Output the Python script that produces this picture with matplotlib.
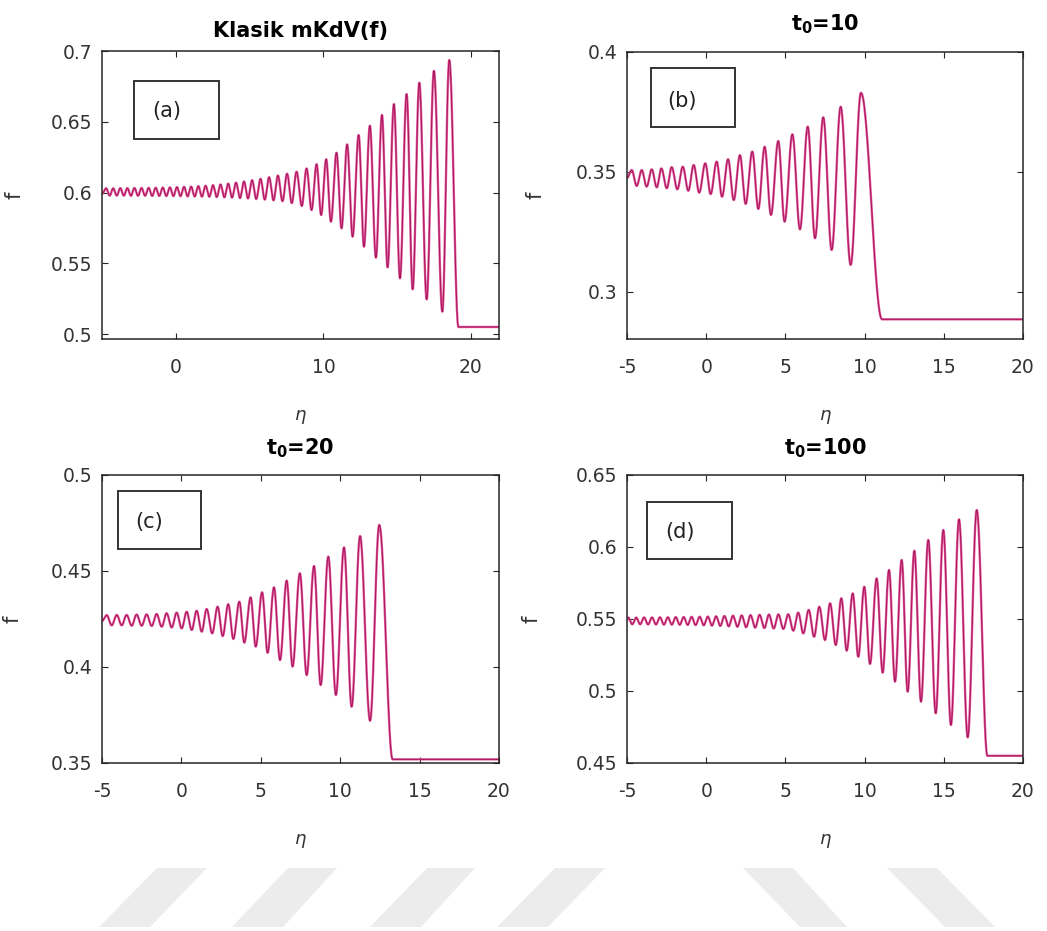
import numpy as np
import matplotlib
matplotlib.use("Agg")
import matplotlib.pyplot as plt
from matplotlib.patches import Rectangle, Polygon

# ---------------- data (extrema) ----------------
titles = ["Klasik mKdV(f)", r"$\mathbf{t_0}$=10", r"$\mathbf{t_0}$=20", r"$\mathbf{t_0}$=100"]
panel_tags = ["(a)", "(b)", "(c)", "(d)"]

# (a) classic mKdV
a_peak_eta = [-4.72, -4.24, -3.76, -3.28, -2.80, -2.32, -1.84, -1.36, -0.88, -0.40,
              0.08, 0.56, 1.04, 1.53, 2.02, 2.52, 3.03, 3.55, 4.08, 4.62,
              5.17, 5.74, 6.32, 6.92, 7.54, 8.18, 8.86, 9.54, 10.19, 10.89,
              11.61, 12.39, 13.15, 13.97, 14.78, 15.64, 16.50, 17.49, 18.53]
a_peak_f = [0.6030, 0.6030, 0.6031, 0.6031, 0.6032, 0.6032, 0.6033, 0.6034, 0.6035, 0.6036,
            0.6038, 0.6040, 0.6042, 0.6045, 0.6048, 0.6052, 0.6057, 0.6063, 0.6070, 0.6078,
            0.6087, 0.6097, 0.6108, 0.6120, 0.6133, 0.6147, 0.6170, 0.6200, 0.6235, 0.6281,
            0.6340, 0.6406, 0.6472, 0.6548, 0.6625, 0.6696, 0.6776, 0.6860, 0.6936]
a_trough_eta = [-4.48, -4.00, -3.52, -3.04, -2.56, -2.08, -1.60, -1.12, -0.64, -0.16,
                0.32, 0.80, 1.28, 1.77, 2.27, 2.77, 3.29, 3.81, 4.35, 4.89,
                5.45, 6.03, 6.62, 7.23, 7.86, 8.54, 9.20, 9.85, 10.51, 11.23,
                11.98, 12.75, 13.56, 14.35, 15.19, 16.05, 17.00, 18.06]
a_trough_f = [0.5978, 0.5978, 0.5978, 0.5977, 0.5977, 0.5977, 0.5976, 0.5976, 0.5975, 0.5975,
              0.5974, 0.5973, 0.5972, 0.5971, 0.5970, 0.5968, 0.5966, 0.5964, 0.5961, 0.5958,
              0.5954, 0.5950, 0.5945, 0.5939, 0.5925, 0.5905, 0.5876, 0.5841, 0.5794, 0.5747,
              0.5688, 0.5617, 0.5540, 0.5471, 0.5394, 0.5316, 0.5245, 0.5158]
a_start_f = 0.5990
a_front_eta, a_plateau_f = 19.15, 0.5050

# (b) t0 = 10
b_peak_eta = [-4.70, -4.07, -3.44, -2.83, -2.18, -1.48, -0.79, -0.06, 0.66, 1.38,
              2.13, 2.91, 3.69, 4.55, 5.44, 6.41, 7.39, 8.49, 9.77]
b_peak_f = [0.3508, 0.3508, 0.3511, 0.3515, 0.3520, 0.3522, 0.3529, 0.3536, 0.3543, 0.3553,
            0.3570, 0.3585, 0.3605, 0.3629, 0.3657, 0.3689, 0.3728, 0.3772, 0.3830]
b_trough_eta = [-4.39, -3.76, -3.12, -2.49, -1.82, -1.13, -0.44, 0.28, 1.00, 1.74,
                2.49, 3.29, 4.09, 4.95, 5.92, 6.87, 7.92, 9.12]
b_trough_f = [0.3442, 0.3439, 0.3436, 0.3432, 0.3428, 0.3422, 0.3414, 0.3408, 0.3397, 0.3383,
              0.3367, 0.3346, 0.3321, 0.3293, 0.3261, 0.3224, 0.3175, 0.3113]
b_start_f = 0.3475
b_front_eta, b_plateau_f = 11.10, 0.2886

# (c) t0 = 20
c_peak_eta = [-4.70, -4.07, -3.45, -2.82, -2.19, -1.56, -0.93, -0.30, 0.33, 0.96,
              1.59, 2.28, 2.95, 3.65, 4.36, 5.08, 5.83, 6.63, 7.46, 8.35,
              9.25, 10.24, 11.25, 12.46]
c_peak_f = [0.4270, 0.4271, 0.4271, 0.4273, 0.4274, 0.4276, 0.4280, 0.4283, 0.4288, 0.4293,
            0.4302, 0.4314, 0.4327, 0.4340, 0.4363, 0.4389, 0.4415, 0.4450, 0.4488, 0.4526,
            0.4575, 0.4623, 0.4682, 0.4740]
c_trough_eta = [-4.39, -3.76, -3.13, -2.50, -1.87, -1.24, -0.61, 0.02, 0.65, 1.28,
                1.94, 2.60, 3.27, 3.96, 4.68, 5.43, 6.21, 7.00, 7.89, 8.77,
                9.73, 10.72, 11.88]
c_trough_f = [0.4217, 0.4217, 0.4215, 0.4215, 0.4214, 0.4210, 0.4206, 0.4201, 0.4193, 0.4184,
              0.4175, 0.4161, 0.4146, 0.4127, 0.4106, 0.4074, 0.4036, 0.4002, 0.3958, 0.3906,
              0.3854, 0.3793, 0.3720]
c_start_f = 0.4240
c_front_eta, c_plateau_f = 13.30, 0.3519

# (d) t0 = 100
d_peak_eta = [-4.92, -4.42, -3.92, -3.42, -2.92, -2.42, -1.92, -1.42, -0.92, -0.41,
              0.10, 0.62, 1.15, 1.69, 2.24, 2.80, 3.37, 3.96, 4.56, 5.18,
              5.81, 6.47, 7.14, 7.82, 8.53, 9.25, 9.98, 10.76, 11.54, 12.34,
              13.14, 14.02, 14.97, 15.96, 17.08]
d_peak_f = [0.5510, 0.5510, 0.5511, 0.5511, 0.5512, 0.5512, 0.5513, 0.5514, 0.5515, 0.5516,
            0.5517, 0.5519, 0.5521, 0.5523, 0.5525, 0.5527, 0.5529, 0.5531, 0.5532, 0.5533,
            0.5544, 0.5563, 0.5585, 0.5609, 0.5644, 0.5678, 0.5724, 0.5782, 0.5840, 0.5910,
            0.5974, 0.6049, 0.6118, 0.6192, 0.6257]
d_trough_eta = [-4.67, -4.17, -3.67, -3.17, -2.67, -2.17, -1.67, -1.17, -0.67, -0.16,
                0.36, 0.89, 1.42, 1.97, 2.52, 3.09, 3.67, 4.26, 4.87, 5.50,
                6.13, 6.81, 7.50, 8.18, 8.87, 9.60, 10.34, 11.14, 11.92, 12.72,
                13.56, 14.49, 15.45, 16.51]
d_trough_f = [0.5463, 0.5463, 0.5462, 0.5462, 0.5461, 0.5461, 0.5460, 0.5459, 0.5458, 0.5456,
              0.5454, 0.5452, 0.5449, 0.5446, 0.5443, 0.5440, 0.5437, 0.5434, 0.5431, 0.5419,
              0.5400, 0.5377, 0.5354, 0.5319, 0.5280, 0.5238, 0.5188, 0.5127, 0.5065, 0.4995,
              0.4926, 0.4845, 0.4764, 0.4678]
d_start_f = 0.5495
d_front_eta, d_plateau_f = 17.75, 0.4550

xlims = [(-5.0, 21.9), (-5.0, 20.0), (-5.0, 20.0), (-5.0, 20.0)]
ylims = [(0.4965, 0.70), (0.2804, 0.40), (0.35, 0.50), (0.45, 0.65)]
xticks = [[0, 10, 20], [-5, 0, 5, 10, 15, 20], [-5, 0, 5, 10, 15, 20], [-5, 0, 5, 10, 15, 20]]
yticks = [[0.5, 0.55, 0.6, 0.65, 0.7], [0.3, 0.35, 0.4], [0.35, 0.4, 0.45, 0.5], [0.45, 0.5, 0.55, 0.6, 0.65]]

panels = [
    (a_peak_eta, a_peak_f, a_trough_eta, a_trough_f, a_start_f, a_front_eta, a_plateau_f),
    (b_peak_eta, b_peak_f, b_trough_eta, b_trough_f, b_start_f, b_front_eta, b_plateau_f),
    (c_peak_eta, c_peak_f, c_trough_eta, c_trough_f, c_start_f, c_front_eta, c_plateau_f),
    (d_peak_eta, d_peak_f, d_trough_eta, d_trough_f, d_start_f, d_front_eta, d_plateau_f),
]

# ---------------- drawing ----------------
W, H = 1047, 931
plt.rcParams["mathtext.fontset"] = "dejavusans"
plt.rcParams["axes.unicode_minus"] = False
fig = plt.figure(figsize=(W / 100, H / 100), dpi=100)
fig.patch.set_facecolor("white")

def px_rect(x0, y0, x1, y1):
    return [x0 / W, 1 - y1 / H, (x1 - x0) / W, (y1 - y0) / H]

axes_px = [(102, 51, 499, 339), (627, 52, 1023, 339), (102, 475, 499, 763), (627, 475, 1023, 763)]
ylabel_x = [-0.194, -0.207, -0.20, -0.215]
tag_boxes = [(134, 81, 219, 139), (651, 68, 735, 127), (118, 491, 201, 549), (647, 502, 732, 559)]
tag_text_pos = [(167, 111), (682, 101), (149, 522), (680, 532)]
title_y_px = [31, 24, 448, 448]

def smooth_path(x0, f0, ext_eta, ext_f, front_eta, plateau, x1, n=30):
    xs = [x0] + list(ext_eta) + [front_eta]
    fs = [f0] + list(ext_f) + [plateau]
    X, Y = [], []
    s = np.linspace(0, 1, n, endpoint=False)
    for i in range(len(xs) - 1):
        X.append(xs[i] + (xs[i + 1] - xs[i]) * s)
        Y.append(fs[i] + (fs[i + 1] - fs[i]) * (1 - np.cos(np.pi * s)) / 2)
    X.append(np.array([front_eta, x1]))
    Y.append(np.array([plateau, plateau]))
    return np.concatenate(X), np.concatenate(Y)

axis_col = "#262626"
for i in range(4):
    ax = fig.add_axes(px_rect(*axes_px[i]))
    pe, pf, te, tf, sf, fe, pl = panels[i]
    ext = sorted(zip(list(pe) + list(te), list(pf) + list(tf)))
    ee = [e for e, _ in ext]
    ff = [f for _, f in ext]
    x, y = smooth_path(xlims[i][0], sf, ee, ff, fe, pl, xlims[i][1])
    ax.plot(x, y, color="#e05a9c", lw=1.7, solid_joinstyle="round")
    ax.plot(x, y, color="#a8145a", lw=0.7, solid_joinstyle="round")
    ax.set_xlim(*xlims[i])
    ax.set_ylim(*ylims[i])
    ax.set_xticks(xticks[i])
    ax.set_yticks(yticks[i])
    ax.set_yticklabels([("%g" % v) for v in yticks[i]])
    ax.set_xticklabels([("%g" % v) for v in xticks[i]])
    ax.tick_params(direction="in", length=4, width=0.8, color=axis_col,
                   labelsize=13.5, labelcolor="#333333", top=True, right=True)
    ax.tick_params(axis="x", pad=14)
    ax.tick_params(axis="y", pad=7)
    for sp in ax.spines.values():
        sp.set_color(axis_col)
        sp.set_linewidth(1.1)
    ax.set_ylabel("f", fontsize=15, color="#333333")
    ax.yaxis.set_label_coords(ylabel_x[i], 0.5)
    ax.set_xlabel(r"$\eta$", fontsize=13, color="#333333")
    ax.xaxis.set_label_coords(0.5, -0.24)
    # title
    x0, y0, x1, y1 = axes_px[i]
    fig.text(((x0 + x1) / 2) / W, 1 - title_y_px[i] / H, titles[i], ha="center", va="center",
             fontsize=15, fontweight="bold", color="black")
    # tag box
    bx0, by0, bx1, by1 = tag_boxes[i]
    fig.add_artist(Rectangle((bx0 / W, 1 - by1 / H), (bx1 - bx0) / W, (by1 - by0) / H,
                             transform=fig.transFigure, fill=False, edgecolor="#333333", lw=1.4))
    tx, ty = tag_text_pos[i]
    fig.text(tx / W, 1 - ty / H, panel_tags[i], ha="center", va="center", fontsize=15, color="#222222")

# watermark parallelograms at the bottom
wm_shapes = [
    [(99, 927), (150, 927), (207, 868), (157, 868)],
    [(232, 927), (283, 927), (337, 868), (288, 868)],
    [(370, 927), (421, 927), (475, 868), (427, 868)],
    [(497, 927), (548, 927), (605, 868), (555, 868)],
    [(800, 927), (847, 927), (793, 868), (743, 868)],
    [(945, 927), (995, 927), (937, 868), (887, 868)],
]
for shp in wm_shapes:
    fig.add_artist(Polygon([(x / W, 1 - y / H) for x, y in shp], closed=True,
                           transform=fig.transFigure, facecolor="#ececec", edgecolor="none", zorder=0))

fig.savefig("out.png", dpi=100, facecolor="white")
